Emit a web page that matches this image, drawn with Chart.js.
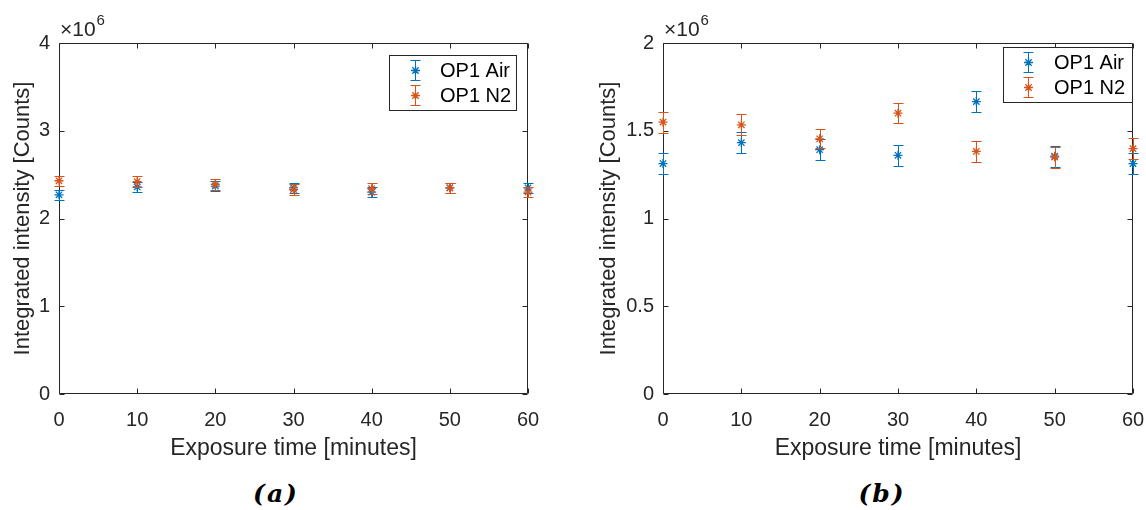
<!DOCTYPE html>
<html><head><meta charset="utf-8">
<script src="https://cdn.jsdelivr.net/npm/chart.js@4/dist/chart.umd.min.js"></script>
<style>
html,body{margin:0;padding:0;background:#fff;}
body{width:1146px;height:510px;position:relative;overflow:hidden;}
.wrap{position:absolute;top:0;width:573px;height:470px;}
canvas{display:block;}
.cap{position:absolute;top:480px;width:120px;height:28px;line-height:28px;text-align:center;font-family:"DejaVu Serif","Liberation Serif",serif;font-style:italic;font-weight:bold;font-size:25px;letter-spacing:2px;color:#000;}
</style></head><body>
<div class="wrap" style="left:0"><canvas id="ca" width="573" height="470"></canvas></div>
<div class="wrap" style="left:573px"><canvas id="cb" width="573" height="470"></canvas></div>
<div class="cap" style="left:216px">(a)</div>
<div class="cap" style="left:822px">(b)</div>
<script>
// ---- data (intensity in units of 1e6 counts) ----
const exposureTime = [0, 10, 20, 30, 40, 50, 60];
const xTickLabels = ['0', '10', '20', '30', '40', '50', '60'];
const yTickLabelsA = ['0', '1', '2', '3', '4'];
const yTickLabelsB = ['0', '0.5', '1', '1.5', '2'];
const seriesNames = ['OP1 Air', 'OP1 N2'];
const exponentLabel = '×10';
const exponentPower = '6';
const xTitle = 'Exposure time [minutes]';
const yTitle = 'Integrated intensity [Counts]';

const airMeanA = [2.27, 2.36, 2.37, 2.35, 2.30, 2.35, 2.35];
const airErrA  = [0.06, 0.06, 0.06, 0.06, 0.06, 0.06, 0.06];
const n2MeanA  = [2.43, 2.42, 2.39, 2.33, 2.34, 2.35, 2.30];
const n2ErrA   = [0.06, 0.065, 0.06, 0.06, 0.06, 0.06, 0.06];

const airMeanB = [1.313, 1.432, 1.392, 1.360, 1.666, 1.355, 1.313];
const airErrB  = [0.060, 0.060, 0.060, 0.060, 0.060, 0.060, 0.060];
const n2MeanB  = [1.549, 1.534, 1.454, 1.600, 1.382, 1.350, 1.398];
const n2ErrB   = [0.060, 0.060, 0.055, 0.058, 0.058, 0.060, 0.060];

const BLUE = '#0072BD', ORANGE = '#D95319', AXC = '#262626';
const FONT = '"Liberation Sans", Arial, Helvetica, sans-serif';

function pts(xs, ys) { return xs.map((x, i) => ({x: x, y: ys[i]})); }

// error bars drawn right before each dataset's markers
const errorBarPlugin = {
  id: 'errbars',
  beforeDatasetDraw(chart, args) {
    const ds = chart.data.datasets[args.index];
    const ctx = chart.ctx, xs = chart.scales.x, ys = chart.scales.y;
    const cap = 5;
    ctx.save();
    ctx.strokeStyle = ds.borderColor; ctx.lineWidth = 1;
    ds.data.forEach((p, j) => {
      const e = ds.errors[j];
      const x = Math.round(xs.getPixelForValue(p.x)) + 0.5;
      const y1 = Math.round(ys.getPixelForValue(p.y + e)) + 0.5;
      const y2 = Math.round(ys.getPixelForValue(p.y - e)) + 0.5;
      ctx.beginPath();
      ctx.moveTo(x, y1); ctx.lineTo(x, y2);
      ctx.moveTo(x - cap, y1); ctx.lineTo(x + cap, y1);
      ctx.moveTo(x - cap, y2); ctx.lineTo(x + cap, y2);
      ctx.stroke();
    });
    ctx.restore();
  }
};

// axes box with inward ticks (MATLAB style)
const boxPlugin = {
  id: 'mbox',
  beforeDatasetsDraw(chart) {
    const ctx = chart.ctx, a = chart.chartArea, xs = chart.scales.x, ys = chart.scales.y;
    const L = Math.round(a.left) + 0.5, R = Math.round(a.right) - 0.5;
    const T = Math.round(a.top) + 0.5, B = Math.round(a.bottom) - 0.5;
    const tl = 5;
    ctx.save();
    ctx.strokeStyle = AXC; ctx.lineWidth = 1;
    ctx.beginPath();
    ctx.rect(L, T, R - L, B - T);
    xs.ticks.forEach(t => {
      const x = Math.round(xs.getPixelForValue(t.value)) + 0.5;
      ctx.moveTo(x, B); ctx.lineTo(x, B - tl);
      ctx.moveTo(x, T); ctx.lineTo(x, T + tl);
    });
    ys.ticks.forEach(t => {
      const y = Math.round(ys.getPixelForValue(t.value)) + 0.5;
      ctx.moveTo(L, y); ctx.lineTo(L + tl, y);
      ctx.moveTo(R, y); ctx.lineTo(R - tl, y);
    });
    ctx.stroke();
    ctx.restore();
  },
  afterDraw(chart) {
    // exponent label
    const ctx = chart.ctx, a = chart.chartArea;
    ctx.save();
    ctx.fillStyle = AXC;
    ctx.textBaseline = 'alphabetic';
    ctx.font = '21px ' + FONT;
    ctx.fillText(exponentLabel, a.left + 1, 36);
    const w = ctx.measureText(exponentLabel).width;
    ctx.font = '15px ' + FONT;
    ctx.fillText(exponentPower, a.left + 1 + w + 1, 25);
    ctx.restore();
    // legend
    const o = chart.options.plugins.mlegend;
    ctx.save();
    ctx.fillStyle = '#fff';
    ctx.fillRect(o.x, o.y, o.w, o.h);
    ctx.strokeStyle = AXC; ctx.lineWidth = 1;
    ctx.strokeRect(o.x + 0.5, o.y + 0.5, o.w, o.h);
    chart.data.datasets.slice().sort((p, q) => p.legendIndex - q.legendIndex).forEach((ds, k) => {
      const cy = Math.round(o.y + o.rowTop + k * o.rowGap) + 0.5;
      const cx = Math.round(o.x + o.symX) + 0.5;
      ctx.strokeStyle = ds.borderColor; ctx.lineWidth = 1;
      ctx.beginPath();
      ctx.moveTo(cx, cy - 10); ctx.lineTo(cx, cy + 10);
      ctx.moveTo(cx - 5, cy - 10); ctx.lineTo(cx + 5, cy - 10);
      ctx.moveTo(cx - 5, cy + 10); ctx.lineTo(cx + 5, cy + 10);
      ctx.stroke();
      ctx.lineWidth = 1.3;
      Chart.helpers.drawPoint(ctx, {pointStyle: 'star', radius: 4.5, borderWidth: 1.3}, cx, cy);
      ctx.fillStyle = '#000';
      ctx.font = '20px ' + FONT;
      ctx.textBaseline = 'middle';
      ctx.fillText(ds.label, o.x + o.textX, cy + 1);
    });
    ctx.restore();
  }
};

function makeChart(id, airMean, airErr, n2Mean, n2Err, yMax, yStep, yLabels, yAxisW, yTitlePad, rightPad, legend) {
  const ds = (name, mean, err, color, order, li) => ({
    label: name, data: pts(exposureTime, mean), errors: err,
    borderColor: color, backgroundColor: color,
    pointStyle: 'star', pointRadius: 4.5, pointHoverRadius: 4.5, pointBorderWidth: 1.3,
    showLine: false, clip: false, order: order, legendIndex: li
  });
  return new Chart(document.getElementById(id), {
    type: 'scatter',
    data: { datasets: [ds(seriesNames[0], airMean, airErr, BLUE, 1, 0), ds(seriesNames[1], n2Mean, n2Err, ORANGE, 0, 1)] },
    options: {
      responsive: false, animation: false, events: [],
      layout: { padding: { left: 0, right: rightPad, top: 43, bottom: 0 } },
      plugins: { legend: { display: false }, tooltip: { enabled: false }, mlegend: legend },
      scales: {
        x: {
          type: 'linear', min: 0, max: 60,
          afterFit: s => { s.height = 76; s.paddingLeft = 0; s.paddingRight = 0; },
          grid: { display: false, drawTicks: false }, border: { display: false },
          ticks: { stepSize: 10, maxRotation: 0, autoSkip: false, padding: 14, color: AXC,
                   font: { size: 20, family: FONT }, callback: (v, i) => xTickLabels[i] },
          title: { display: true, text: xTitle, color: AXC, font: { size: 23, family: FONT },
                   padding: { top: 0, bottom: 8 } }
        },
        y: {
          type: 'linear', min: 0, max: yMax,
          afterFit: s => { s.width = yAxisW; s.paddingTop = 0; s.paddingBottom = 0; },
          grid: { display: false, drawTicks: false }, border: { display: false },
          ticks: { stepSize: yStep, padding: 9, color: AXC,
                   font: { size: 20, family: FONT }, callback: (v, i) => yLabels[i] },
          title: { display: true, text: yTitle, color: AXC, font: { size: 22, family: FONT },
                   padding: { top: yTitlePad, bottom: 0 } }
        }
      }
    },
    plugins: [errorBarPlugin, boxPlugin]
  });
}

makeChart('ca', airMeanA, airErrA, n2MeanA, n2ErrA, 4, 1, yTickLabelsA, 59, 10, 45,
  { x: 389, y: 55, w: 127, h: 55, symX: 26, textX: 51, rowTop: 15, rowGap: 25 });
makeChart('cb', airMeanB, airErrB, n2MeanB, n2ErrB, 2, 0.5, yTickLabelsB, 90, 23, 13,
  { x: 1003 - 573, y: 47, w: 129, h: 55, symX: 25, textX: 51, rowTop: 15, rowGap: 25 });
</script>
</body></html>
